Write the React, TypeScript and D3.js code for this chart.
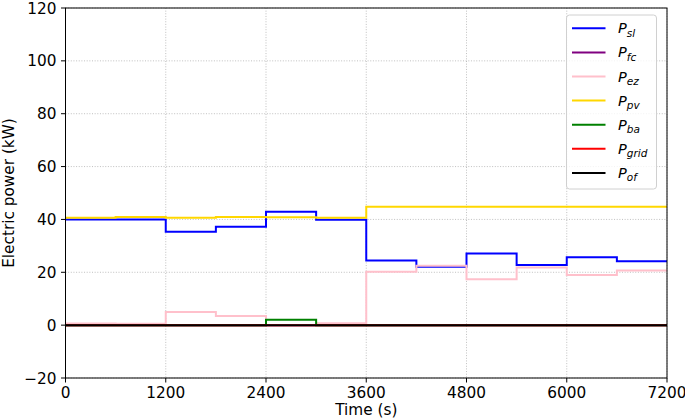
import React from "react";
import * as d3 from "d3";

const times = [0, 600, 1200, 1800, 2400, 3000, 3600, 4200, 4800, 5400, 6000, 6600, 7200];
const P_sl = [40.0, 40.0, 35.3, 37.2, 42.9, 39.9, 24.5, 22.1, 27.1, 22.8, 25.7, 24.2];
const P_fc = [0, 0, 0, 0, 0, 0, 0, 0, 0, 0, 0, 0];
const P_ez = [0.6, 0.5, 5.0, 3.5, 0, 0.75, 20.2, 22.5, 17.4, 21.8, 19.0, 20.7];
const P_pv = [40.6, 40.9, 40.6, 40.9, 40.8, 40.6, 44.8, 44.8, 44.8, 44.8, 44.8, 44.8];
const P_ba = [0, 0, 0, 0, 2.0, 0, 0, 0, 0, 0, 0, 0];
const P_grid = [0, 0, 0, 0, 0, 0, 0, 0, 0, 0, 0, 0];
const P_of = [0, 0, 0, 0, 0, 0, 0, 0, 0, 0, 0, 0];

const xTicks = [0, 1200, 2400, 3600, 4800, 6000, 7200];
const yTicks = [-20, 0, 20, 40, 60, 80, 100, 120];

const series = [
  { sub: "sl", values: P_sl, color: "#0000ff" },
  { sub: "fc", values: P_fc, color: "#800080" },
  { sub: "ez", values: P_ez, color: "#ffc0cb" },
  { sub: "pv", values: P_pv, color: "#ffd700" },
  { sub: "ba", values: P_ba, color: "#008000" },
  { sub: "grid", values: P_grid, color: "#ff0000" },
  { sub: "of", values: P_of, color: "#000000" },
];

const W = 685, H = 419;
const L = 65.5, R = 667, T = 8, B = 378;
const font = "DejaVu Sans, sans-serif";
const fs = 15.3;

export default function App() {
  const x = d3.scaleLinear().domain([0, 7200]).range([L, R]);
  const y = d3.scaleLinear().domain([-20, 120]).range([B, T]);
  const line = d3
    .line<[number, number]>()
    .x((d) => x(d[0]))
    .y((d) => y(d[1]))
    .curve(d3.curveStepAfter);

  return (
    <svg width={W} height={H} style={{ position: "absolute", left: 0, top: 0, background: "#fff" }}>
      <defs>
        <clipPath id="plot">
          <rect x={L} y={T} width={R - L} height={B - T} />
        </clipPath>
      </defs>
      {xTicks.map((t) => (
        <line key={"gx" + t} x1={x(t)} x2={x(t)} y1={T} y2={B} stroke="#b0b0b0" strokeWidth={0.8} strokeDasharray="1,1.65" />
      ))}
      {yTicks.map((t) => (
        <line key={"gy" + t} x1={L} x2={R} y1={y(t)} y2={y(t)} stroke="#b0b0b0" strokeWidth={0.8} strokeDasharray="1,1.65" />
      ))}
      <g clipPath="url(#plot)">
        {series.map((s) => {
          const pts: [number, number][] = s.values.map((v, i) => [times[i], v] as [number, number]);
          pts.push([times[times.length - 1], s.values[s.values.length - 1]]);
          return <path key={s.sub} d={line(pts) || ""} fill="none" stroke={s.color} strokeWidth={2} />;
        })}
      </g>
      <rect x={L} y={T} width={R - L} height={B - T} fill="none" stroke="#000" strokeWidth={1} />
      {xTicks.map((t) => (
        <g key={"xt" + t}>
          <line x1={x(t)} x2={x(t)} y1={B} y2={B + 4.5} stroke="#000" strokeWidth={1} />
          <text x={x(t)} y={397.5} textAnchor="middle" fontFamily={font} fontSize={fs} fill="#000">
            {t}
          </text>
        </g>
      ))}
      {yTicks.map((t) => (
        <g key={"yt" + t}>
          <line x1={L - 4.5} x2={L} y1={y(t)} y2={y(t)} stroke="#000" strokeWidth={1} />
          <text x={L - 9} y={y(t) + 5.6} textAnchor="end" fontFamily={font} fontSize={fs} fill="#000">
            {t < 0 ? "\u2212" + Math.abs(t) : t}
          </text>
        </g>
      ))}
      <text x={(L + R) / 2} y={415} textAnchor="middle" fontFamily={font} fontSize={fs} fill="#000">
        Time (s)
      </text>
      <text
        transform={`translate(14,${(T + B) / 2}) rotate(-90)`}
        textAnchor="middle"
        fontFamily={font}
        fontSize={fs}
        fill="#000"
      >
        Electric power (kW)
      </text>
      <g>
        <rect x={566.5} y={15} width={90} height={174} rx={3} fill="#fff" fillOpacity={0.8} stroke="#d0d0d0" strokeWidth={1} />
        {series.map((s, i) => {
          const cy = 28.3 + i * 24.1;
          return (
            <g key={"lg" + s.sub}>
              <line x1={572} x2={605.5} y1={cy} y2={cy} stroke={s.color} strokeWidth={2} />
              <text x={618} y={cy + 5} fontFamily={font} fontSize={14.5} fontStyle="italic" fill="#000">
                P
                <tspan dy={3.5} fontSize={10.5}>
                  {s.sub}
                </tspan>
              </text>
            </g>
          );
        })}
      </g>
    </svg>
  );
}
